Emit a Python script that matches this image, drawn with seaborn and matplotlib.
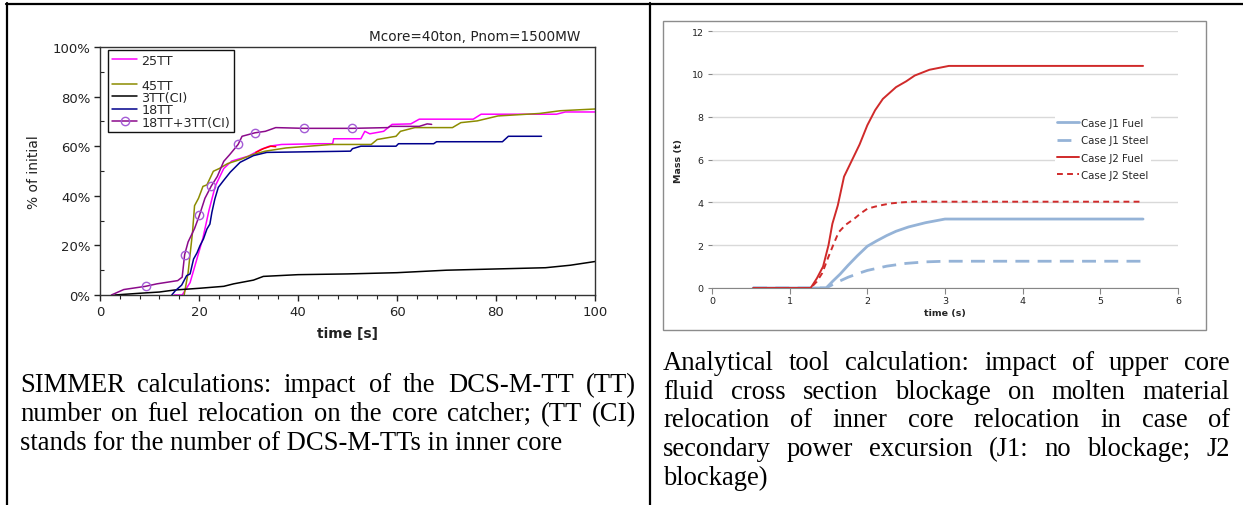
import matplotlib
matplotlib.use("Agg")
import matplotlib.pyplot as plt
import seaborn as sns
import numpy as np
from matplotlib.lines import Line2D
from matplotlib.patches import Rectangle
from matplotlib.transforms import Affine2D

sns.set_style("ticks")
plt.rcParams['font.family'] = ['DejaVu Sans']

# ---------------- data: left panel (SIMMER) ----------------
t_25tt = [15, 16.6, 18.2, 20.8, 22, 23.3, 25, 26.6, 30, 32.5, 34.2, 36.7, 44.3, 47.0, 47.2, 52.7, 53.5, 54.5, 57.3, 59, 62.8, 64.5, 75.4, 77, 92.2, 94, 100]
p_25tt = [0, 0, 5, 23, 34, 44, 51, 54, 56, 58.7, 60, 60.7, 61, 61, 63, 63, 66, 65, 66, 68.8, 69, 70.9, 70.9, 72.9, 72.9, 73.8, 73.8]

t_45tt = [17, 17.8, 18.7, 19.1, 19.9, 20.8, 21.6, 22.9, 24.1, 25.8, 28.3, 30.8, 33.4, 37.6, 46.8, 54.8, 56, 59.8, 60.7, 63.6, 71.2, 72.9, 76.2, 80.4, 88.8, 93, 100]
p_45tt = [0, 9, 25.5, 36, 39, 43.8, 44.4, 49.9, 51, 53, 54.6, 56.6, 58, 59.3, 60.7, 60.7, 62.7, 64, 66, 67.5, 67.5, 69.5, 70.2, 72.2, 73.2, 74.3, 75]

t_3tt = [3, 8, 12, 15, 20, 25, 27, 31, 33, 40, 50, 60, 70, 80, 90, 95, 100]
p_3tt = [0, 0.7, 1.2, 2, 2.7, 3.5, 4.5, 6, 7.5, 8.2, 8.5, 9, 10, 10.5, 11, 12, 13.5]

t_18tt = [14.5, 15.2, 16.5, 17.5, 18.2, 18.9, 19.6, 20.2, 20.9, 21.6, 22.2, 22.6, 23.2, 23.9, 24.9, 26.3, 28.3, 31, 33.7, 50.6, 51, 52.7, 59.8, 60.3, 67.4, 68, 81.3, 82.5, 89.2]
p_18tt = [0, 1.7, 4, 7.8, 8.5, 14.5, 17, 19.9, 22.6, 26.6, 28.6, 33.3, 38.7, 43.4, 46, 49.5, 53.5, 56.2, 57.5, 58, 59, 60, 60, 61, 61, 61.8, 61.8, 64, 64]

t_18ci = [2.3, 4.8, 9.2, 11.5, 15.7, 16.6, 17.1, 17.8, 19.1, 20.1, 21.2, 22.5, 23.7, 25, 26.2, 27.9, 28.7, 31.3, 33.4, 35.5, 41.3, 51, 58.2, 58.6, 64.5, 66.1, 67]
p_18ci = [0, 2.2, 3.5, 4.5, 5.8, 7.2, 16.3, 21.4, 26.8, 32.2, 39, 44, 47.8, 53.9, 56.6, 60.7, 64, 65.4, 66, 67.5, 67.2, 67.2, 67.5, 68, 68, 69, 68.8]
marker_idx_18ci = [2, 6, 9, 11, 15, 17, 20, 21]

t_red = [31.5, 33, 34.5, 35.5]
p_red = [57.5, 59, 60, 59.8]

left_labels = ["25TT", "45TT", "3TT(CI)", "18TT", "18TT+3TT(CI)"]
left_xticks = [0, 20, 40, 60, 80, 100]
left_yticks = [0, 20, 40, 60, 80, 100]

# ---------------- data: right panel (analytical tool) ----------------
t_j1f = [0.53, 1.47, 1.55, 1.65, 1.75, 1.87, 2.0, 2.12, 2.25, 2.37, 2.53, 2.75, 3.0, 5.55]
m_j1f = [0, 0, 0.3, 0.65, 1.05, 1.5, 1.95, 2.2, 2.45, 2.65, 2.85, 3.05, 3.22, 3.22]

t_j1s = [0.53, 1.47, 1.6, 1.75, 1.9, 2.0, 2.25, 2.5, 2.75, 3.0, 5.55]
m_j1s = [0, 0, 0.25, 0.5, 0.7, 0.82, 1.02, 1.15, 1.22, 1.25, 1.25]

t_j2f = [0.53, 1.27, 1.35, 1.43, 1.5, 1.55, 1.62, 1.7, 1.8, 1.9, 2.0, 2.1, 2.2, 2.37, 2.5, 2.61, 2.8, 3.05, 5.55]
m_j2f = [0, 0, 0.45, 1.0, 2.0, 3.0, 3.86, 5.2, 5.95, 6.7, 7.6, 8.3, 8.83, 9.38, 9.65, 9.92, 10.19, 10.37, 10.37]

t_j2s = [0.53, 1.27, 1.35, 1.42, 1.49, 1.56, 1.63, 1.72, 1.83, 1.92, 2.0, 2.1, 2.2, 2.3, 2.45, 2.6, 5.55]
m_j2s = [0, 0, 0.3, 0.7, 1.37, 2.0, 2.6, 2.95, 3.23, 3.5, 3.7, 3.8, 3.88, 3.95, 4.0, 4.03, 4.03]

right_labels = ["Case J1 Fuel", "Case J1 Steel", "Case J2 Fuel", "Case J2 Steel"]
right_xticks = [0, 1, 2, 3, 4, 5, 6]
right_yticks = [0, 2, 4, 6, 8, 10, 12]

cap_left = ["SIMMER calculations: impact of the DCS-M-TT (TT)",
            "number on fuel relocation on the core catcher; (TT (CI)",
            "stands for the number of DCS-M-TTs in inner core"]
cap_right = ["Analytical tool calculation: impact of upper core",
             "fluid cross section blockage on molten material",
             "relocation of inner core relocation in case of",
             "secondary power excursion (J1: no blockage; J2",
             "blockage)"]

# ---------------- figure ----------------
W, H = 1243, 506
fig = plt.figure(figsize=(W / 100, H / 100), dpi=100)
fig.patch.set_facecolor("white")
pix = Affine2D().scale(1, -1).translate(0, H)  # image pixel coords -> display

def fbox(x0, y0, x1, y1):
    return [x0 / W, 1 - y1 / H, (x1 - x0) / W, (y1 - y0) / H]

# table borders
for (xa, ya, xb, yb) in [(6, 5, W, 5), (7, 4, 7, H), (650, 4, 650, H)]:
    fig.add_artist(Line2D([xa, xb], [ya, yb], transform=pix, color="black", lw=1.6))

# ---------- left axes ----------
ax1 = fig.add_axes(fbox(100, 48, 595, 296))
lw = 1.1
sns.lineplot(x=t_25tt, y=p_25tt, ax=ax1, color="#FF00FF", lw=lw, estimator=None, sort=False)
sns.lineplot(x=t_red, y=p_red, ax=ax1, color="#FF0000", lw=lw, estimator=None, sort=False)
sns.lineplot(x=t_45tt, y=p_45tt, ax=ax1, color="#8C8C00", lw=lw, estimator=None, sort=False)
sns.lineplot(x=t_3tt, y=p_3tt, ax=ax1, color="#000000", lw=lw, estimator=None, sort=False)
sns.lineplot(x=t_18tt, y=p_18tt, ax=ax1, color="#00008C", lw=lw, estimator=None, sort=False)
sns.lineplot(x=t_18ci, y=p_18ci, ax=ax1, color="#8B0A8B", lw=lw, estimator=None, sort=False,
             marker="o", markevery=marker_idx_18ci, markersize=6, markerfacecolor="none",
             markeredgecolor="#A45CD6", markeredgewidth=1.0)
ax1.set_xlim(0, 100)
ax1.set_ylim(0, 100)
ax1.set_xticks(left_xticks)
ax1.set_yticks(left_yticks)
ax1.set_yticklabels([f"{v}%" for v in left_yticks])
ax1.set_xticks(np.arange(0, 101, 4), minor=True)
ax1.set_yticks(np.arange(10, 100, 20), minor=True)
for s in ax1.spines.values():
    s.set_color("#333333"); s.set_linewidth(1.0)
ax1.tick_params(axis="both", which="major", labelsize=9.5, length=4, width=1, direction="out", pad=3, colors="#222222")
ax1.tick_params(axis="x", which="minor", length=3, width=0.8, direction="out", colors="#222222")
ax1.tick_params(axis="y", which="minor", length=3, width=0.8, direction="in", colors="#222222")
ax1.set_xlabel("time [s]", fontsize=10, fontweight="bold", labelpad=6, color="#222222")
ax1.set_ylabel("% of initial", fontsize=10, labelpad=8, color="#222222")
ax1.text(0.97, 1.045, "Mcore=40ton, Pnom=1500MW", transform=ax1.transAxes, ha="right", va="center",
         fontsize=9.8, color="#222222")
lines = ax1.get_lines()
blank = Line2D([], [], color="none")
handles = [lines[0], blank, lines[2], lines[3], lines[4], lines[5]]
labs = [left_labels[0], " ", left_labels[1], left_labels[2], left_labels[3], left_labels[4]]
leg = ax1.legend(handles, labs, loc="upper left", bbox_to_anchor=(0.016, 0.988), borderaxespad=0,
                 fontsize=9.2, frameon=True, fancybox=False, edgecolor="#111111", framealpha=1,
                 handlelength=2.0, handletextpad=0.3, labelspacing=-0.05, borderpad=0.3)
leg.get_frame().set_linewidth(1.0)

# ---------- right panel ----------
fig.add_artist(Rectangle((663, 22), 1206 - 663, 331 - 22, transform=pix, fill=False,
                         edgecolor="#8C8C8C", lw=1.0))
ax2 = fig.add_axes(fbox(712, 32, 1178, 289))
sns.lineplot(x=t_j1f, y=m_j1f, ax=ax2, color="#95B3D7", lw=2.0, label=right_labels[0], estimator=None, sort=False)
sns.lineplot(x=t_j1s, y=m_j1s, ax=ax2, color="#95B3D7", lw=2.0, label=right_labels[1], estimator=None, sort=False, dashes=False)
ax2.get_lines()[1].set_dashes([5, 3])
sns.lineplot(x=t_j2f, y=m_j2f, ax=ax2, color="#D02A2A", lw=1.4, label=right_labels[2], estimator=None, sort=False)
sns.lineplot(x=t_j2s, y=m_j2s, ax=ax2, color="#D02A2A", lw=1.4, label=right_labels[3], estimator=None, sort=False)
ax2.get_lines()[3].set_dashes([3, 2.2])
ax2.set_xlim(0, 6)
ax2.set_ylim(0, 12)
ax2.set_xticks(right_xticks)
ax2.set_yticks(right_yticks)
ax2.grid(axis="y", color="#D9D9D9", lw=1.0)
ax2.set_axisbelow(True)
for k in ["top", "right", "left"]:
    ax2.spines[k].set_visible(False)
ax2.spines["bottom"].set_color("#868686")
ax2.tick_params(axis="x", length=4, width=0.8, direction="out", colors="#868686", labelcolor="#222222", labelsize=6.8, pad=2)
ax2.tick_params(axis="y", length=3, width=0.8, direction="out", colors="#868686", labelcolor="#222222", labelsize=6.8, pad=3)
ax2.set_xlabel("time (s)", fontsize=6.8, fontweight="bold", labelpad=2)
ax2.set_ylabel("Mass (t)", fontsize=6.8, fontweight="bold", labelpad=6)
leg2 = ax2.legend(loc="upper left", bbox_to_anchor=(0.735, 0.67), borderaxespad=0, fontsize=7.4,
                  frameon=True, fancybox=False, edgecolor="none", framealpha=1,
                  handlelength=2.2, handletextpad=0.2, labelspacing=0.72, borderpad=0.2)

# ---------- captions (justified) ----------
renderer = fig.canvas.get_renderer()
def justified(lines_, x0, x1, baselines, size):
    for i, (ln, yb) in enumerate(zip(lines_, baselines)):
        kw = dict(transform=pix, fontsize=size, family="Liberation Serif", va="baseline", ha="left", color="black")
        if i == len(lines_) - 1:
            fig.text(x0, yb, ln, **kw)
            continue
        words = ln.split(" ")
        arts = [fig.text(0, yb, w, **kw) for w in words]
        widths = [a.get_window_extent(renderer).width for a in arts]
        gap = (x1 - x0 - sum(widths)) / (len(words) - 1)
        x = x0
        for a, w in zip(arts, widths):
            a.set_x(x)
            x += w + gap

justified(cap_left, 20, 636, [392, 421, 450], 19.2)
justified(cap_right, 663, 1230, [370, 399, 427, 456, 485], 19.2)

fig.savefig("out.png", dpi=100)
